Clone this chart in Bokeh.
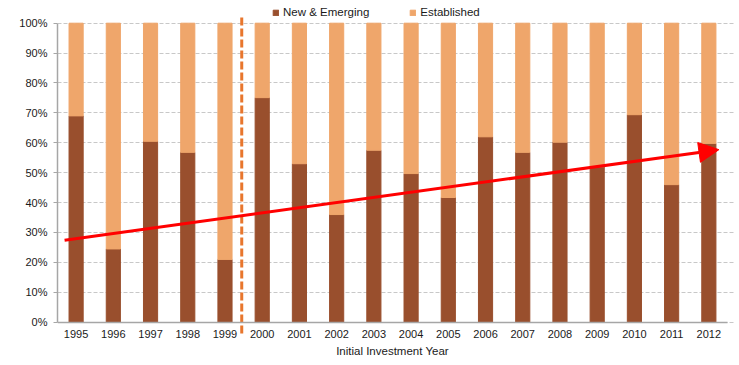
from bokeh.plotting import figure
from bokeh.models import (ColumnDataSource, Range1d, Legend, LegendItem,
                          Arrow, NormalHead, NumeralTickFormatter, FixedTicker)
from bokeh.embed import file_html
from bokeh.resources import INLINE

years = [str(y) for y in range(1995, 2013)]
new_emerging = [0.69, 0.245, 0.605, 0.568, 0.21, 0.751, 0.53, 0.36, 0.575, 0.497,
                0.417, 0.62, 0.568, 0.602, 0.52, 0.694, 0.46, 0.598]
established = [1 - v for v in new_emerging]
y_ticks = [i / 10 for i in range(11)]

# trend arrow (start / end), x in category slots, y in share
trend_x = [0.19, 17.77]
trend_y = [0.274, 0.577]
# divider between 1999 and 2000
divider_x = [4.95, 4.95]
divider_y = [1.019, -0.038]

DARK = "#994F2D"
LIGHT = "#EFA66B"
FONT = "Liberation Sans"
TXT = "#1a1a1a"

xpos = [i + 0.5 for i in range(len(years))]
n = len(years)
src = ColumnDataSource(dict(x=xpos, emerging=new_emerging, established=established))

p = figure(width=735, height=360, x_range=Range1d(0, 18.216),
           y_range=Range1d(-0.1281, 1.0759), output_backend="svg", toolbar_location=None,
           min_border_left=57, min_border_right=0, min_border_top=0, min_border_bottom=0)
p.outline_line_color = None
p.background_fill_color = "white"

rs = p.vbar_stack(["emerging", "established"], x="x", width=0.38, source=src,
                  color=[DARK, LIGHT], line_color=[DARK, LIGHT])

p.xgrid.grid_line_color = None
p.ygrid.grid_line_color = "#C8C8C8"
p.ygrid.grid_line_dash = "4 2"
p.ygrid.ticker = FixedTicker(ticks=y_ticks)
p.ygrid.bounds = (0, n)

p.yaxis.ticker = FixedTicker(ticks=y_ticks)
p.yaxis.formatter = NumeralTickFormatter(format="0%")
p.yaxis.bounds = (0, 1)
p.xaxis.ticker = FixedTicker(ticks=xpos)
p.xaxis.major_label_overrides = {x: y for x, y in zip(xpos, years)}
p.xaxis.bounds = (0, n)
p.xaxis.fixed_location = 0
for ax in (p.xaxis, p.yaxis):
    ax.axis_line_color = "#A6A6A6"
    ax.axis_line_width = 1.5
    ax.major_tick_line_color = "#A6A6A6"
    ax.minor_tick_line_color = None
    ax.major_label_text_font = FONT
    ax.major_label_text_font_size = "11px"
    ax.major_label_text_color = TXT
p.yaxis.major_tick_out = 4
p.yaxis.major_tick_in = 0
p.yaxis.major_label_standoff = 6
p.xaxis.major_tick_out = 0
p.xaxis.major_tick_in = 0
p.xaxis.major_label_standoff = 8
p.xaxis.axis_label = "Initial Investment Year"
p.xaxis.axis_label_text_font = FONT
p.xaxis.axis_label_text_font_size = "11.5px"
p.xaxis.axis_label_text_font_style = "normal"
p.xaxis.axis_label_text_color = TXT
p.xaxis.axis_label_standoff = 3

p.line(divider_x, divider_y, line_color="#E8762D", line_width=3, line_dash="8 3")

p.add_layout(Arrow(x_start=trend_x[0], y_start=trend_y[0], x_end=trend_x[1], y_end=trend_y[1],
                   line_color="#FF0000", line_width=3,
                   end=NormalHead(size=20, fill_color="#FF0000", line_color="#FF0000")))

legend = Legend(items=[LegendItem(label="New & Emerging", renderers=[rs[0]]),
                       LegendItem(label="Established", renderers=[rs[1]])],
                orientation="horizontal", location=(215, 342),
                padding=0, margin=0, spacing=40, label_standoff=4,
                glyph_width=7, glyph_height=7, label_height=12,
                label_text_font=FONT, label_text_font_size="11.5px", label_text_color=TXT,
                border_line_color=None, background_fill_alpha=0)
p.add_layout(legend)

open("out.html", "w").write(file_html(p, INLINE))
